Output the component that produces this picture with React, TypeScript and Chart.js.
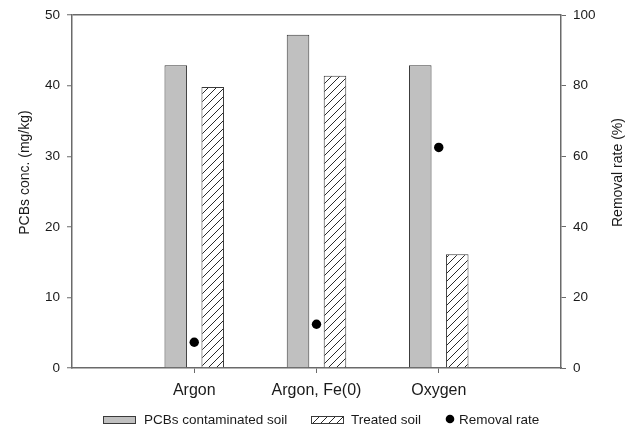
import React, { useEffect, useRef } from 'react';
import { Chart, registerables } from 'chart.js';

Chart.register(...registerables);

// Empty slots at both ends keep the three groups centred in quarters of the axis.
const categories = ['', 'Argon', 'Argon, Fe(0)', 'Oxygen', ''];
const contaminatedSoil = [null, 42.9, 47.2, 42.9, null];
const treatedSoil = [null, 39.8, 41.4, 16.1, null];
const removalRate = [null, 7.3, 12.4, 62.5, null];

const concAxis = { min: 0, max: 50, step: 10 };
const rateAxis = { min: 0, max: 100, step: 20 };

const legendLabels = ['PCBs contaminated soil', 'Treated soil', 'Removal rate'];
const concTitle = 'PCBs conc. (mg/kg)';
const rateTitle = 'Removal rate (%)';

const FONT = '"Liberation Sans", Arial, Helvetica, sans-serif';
const AXIS_COLOR = '#6a6a6a';
const TEXT_COLOR = '#1a1a1a';

function makeHatch(): CanvasPattern | string {
  const size = 8;
  const tile = document.createElement('canvas');
  tile.width = size;
  tile.height = size;
  const c = tile.getContext('2d');
  if (!c) return '#ffffff';
  c.fillStyle = '#ffffff';
  c.fillRect(0, 0, size, size);
  c.strokeStyle = '#2a2a2a';
  c.lineWidth = 1;
  c.beginPath();
  c.moveTo(0, size);
  c.lineTo(size, 0);
  c.moveTo(-2, 2);
  c.lineTo(2, -2);
  c.moveTo(size - 2, size + 2);
  c.lineTo(size + 2, size - 2);
  c.stroke();
  const p = c.createPattern(tile, 'repeat');
  return p || '#ffffff';
}

// Axis titles (both read bottom-to-top) and the legend row under the axis.
const decorPlugin = {
  id: 'decor',
  afterDraw(chart: any) {
    const { ctx, chartArea } = chart;
    const midY = (chartArea.top + chartArea.bottom) / 2 - 19;
    ctx.save();
    ctx.fillStyle = TEXT_COLOR;
    ctx.font = `14px ${FONT}`;
    ctx.textAlign = 'center';
    ctx.textBaseline = 'middle';

    ctx.save();
    ctx.translate(chartArea.left - 47, midY);
    ctx.rotate(-Math.PI / 2);
    ctx.fillText(concTitle, 0, 0);
    ctx.restore();

    ctx.save();
    ctx.translate(chartArea.right + 57, midY);
    ctx.rotate(-Math.PI / 2);
    ctx.fillText(rateTitle, 0, 0);
    ctx.restore();

    const ds = chart.data.datasets;
    const y = 420;
    ctx.font = `13.5px ${FONT}`;
    ctx.textAlign = 'left';

    // bar swatches
    const swatches = [
      { x: 103, text: 144, ds: ds[0] },
      { x: 311, text: 351, ds: ds[1] },
    ];
    swatches.forEach((s, i) => {
      ctx.fillStyle = s.ds.backgroundColor;
      ctx.fillRect(s.x, y - 4, 33, 8);
      ctx.strokeStyle = s.ds.borderColor;
      ctx.lineWidth = 1;
      ctx.strokeRect(s.x + 0.5, y - 3.5, 32, 7);
      ctx.fillStyle = TEXT_COLOR;
      ctx.fillText(legendLabels[i], s.text, y);
    });

    // point swatch
    ctx.fillStyle = ds[2].pointBackgroundColor;
    ctx.beginPath();
    ctx.arc(450, y - 1, 4.3, 0, Math.PI * 2);
    ctx.fill();
    ctx.fillStyle = TEXT_COLOR;
    ctx.fillText(legendLabels[2], 459, y);
    ctx.restore();
  },
};

export default function App() {
  const ref = useRef<HTMLCanvasElement | null>(null);

  useEffect(() => {
    const canvas = ref.current;
    if (!canvas) return;
    const hatch = makeHatch();

    const chart = new Chart(canvas, {
      type: 'bar',
      data: {
        labels: categories,
        datasets: [
          {
            type: 'bar',
            label: legendLabels[0],
            data: contaminatedSoil,
            backgroundColor: '#c0c0c0',
            borderColor: '#3a3a3a',
            borderWidth: 1,
            yAxisID: 'y',
            categoryPercentage: 0.605,
            barPercentage: 0.61,
          },
          {
            type: 'bar',
            label: legendLabels[1],
            data: treatedSoil,
            backgroundColor: hatch as any,
            borderColor: '#3a3a3a',
            borderWidth: 1,
            yAxisID: 'y',
            categoryPercentage: 0.605,
            barPercentage: 0.61,
          },
          {
            type: 'line',
            label: legendLabels[2],
            data: removalRate,
            showLine: false,
            pointRadius: 4.7,
            pointBackgroundColor: '#000000',
            pointBorderColor: '#000000',
            pointBorderWidth: 0,
            yAxisID: 'y1',
          } as any,
        ],
      },
      options: {
        responsive: false,
        animation: false,
        devicePixelRatio: 1,
        layout: { padding: { left: 0, right: 0, top: 14, bottom: 32 } },
        plugins: {
          legend: { display: false },
          tooltip: { enabled: false },
        },
        scales: {
          x: {
            type: 'category',
            offset: false,
            border: { display: true, color: AXIS_COLOR, width: 1.5 },
            grid: {
              offset: false,
              drawOnChartArea: false,
              drawTicks: true,
              tickLength: 5,
              tickColor: (ctx: any) =>
                ctx.index === 0 || ctx.index === categories.length - 1 ? 'rgba(0,0,0,0)' : AXIS_COLOR,
              tickWidth: 1,
            },
            ticks: {
              color: TEXT_COLOR,
              font: { family: FONT, size: 16 },
              padding: 8,
              autoSkip: false,
              maxRotation: 0,
            },
            afterFit: (s: any) => {
              s.height = 30;
            },
          },
          y: {
            type: 'linear',
            position: 'left',
            min: concAxis.min,
            max: concAxis.max,
            border: { display: true, color: AXIS_COLOR, width: 1.5 },
            grid: {
              drawOnChartArea: true,
              color: (ctx: any) => (ctx.tick && ctx.tick.value === concAxis.max ? AXIS_COLOR : 'rgba(0,0,0,0)'),
              lineWidth: 1.5,
              tickColor: AXIS_COLOR,
              tickWidth: 1,
              tickLength: 5,
            },
            ticks: {
              stepSize: concAxis.step,
              color: TEXT_COLOR,
              font: { family: FONT, size: 13.5 },
              padding: 7,
            },
            afterFit: (s: any) => {
              s.width = 72;
            },
          },
          y1: {
            type: 'linear',
            position: 'right',
            min: rateAxis.min,
            max: rateAxis.max,
            border: { display: true, color: AXIS_COLOR, width: 1.5 },
            grid: {
              drawOnChartArea: false,
              tickColor: AXIS_COLOR,
              tickWidth: 1,
              tickLength: 5,
            },
            ticks: {
              stepSize: rateAxis.step,
              color: TEXT_COLOR,
              font: { family: FONT, size: 13.5 },
              padding: 7,
            },
            afterFit: (s: any) => {
              s.width = 78;
            },
          },
        },
      },
      plugins: [decorPlugin],
    });

    return () => chart.destroy();
  }, []);

  return (
    <div style={{ position: 'absolute', left: 0, top: 0, width: 639, height: 430, background: '#ffffff' }}>
      <canvas ref={ref} width={639} height={430} style={{ display: 'block' }} />
    </div>
  );
}
